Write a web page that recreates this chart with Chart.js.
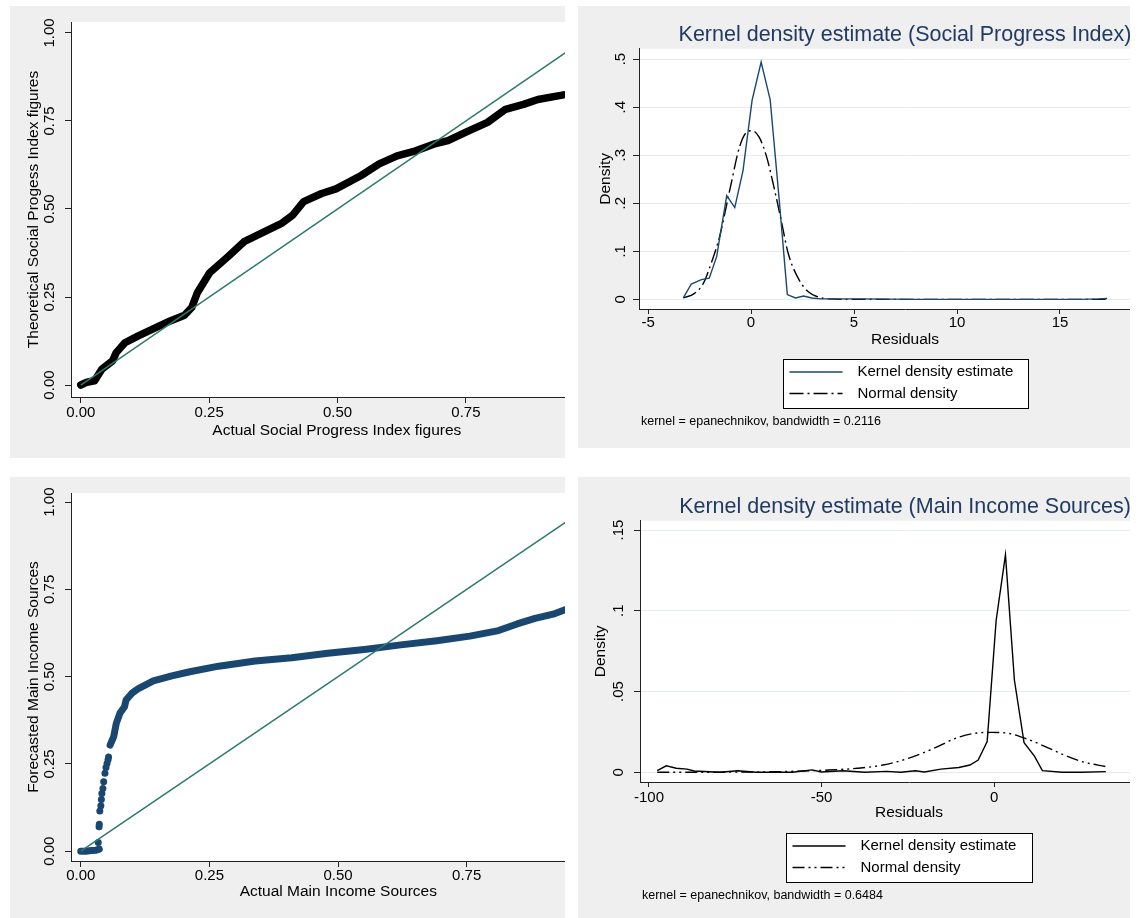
<!DOCTYPE html>
<html>
<head>
<meta charset="utf-8">
<title>Q-Q plots and kernel density estimates</title>
<script src="https://cdn.jsdelivr.net/npm/chart.js@4.4.1/dist/chart.umd.min.js"></script>
<style>
  html, body { margin: 0; padding: 0; background: #fff; }
  body { width: 1141px; height: 918px; position: relative; overflow: hidden; }
  .panel { position: absolute; background: #efefef; overflow: hidden; }
  .panel canvas { position: absolute; left: 0; top: 0; }
</style>
</head>
<body>
<div class="panel" style="left:10px;top:6px;width:555px;height:452px"><canvas id="qqSpi" width="600" height="452"></canvas></div>
<div class="panel" style="left:578px;top:6px;width:552px;height:442px"><canvas id="kdeSpi" width="654" height="442"></canvas></div>
<div class="panel" style="left:10px;top:477px;width:555px;height:441px"><canvas id="qqIncome" width="600" height="441"></canvas></div>
<div class="panel" style="left:578px;top:477px;width:552px;height:441px"><canvas id="kdeIncome" width="654" height="441"></canvas></div>
<script>
// --- data ---
const qqTicks = [0, 0.25, 0.5, 0.75, 1];
const qqTickLabels = ['0.00', '0.25', '0.50', '0.75', '1.00'];
const refLineX = [0, 1];
const refLineY = [0, 1];

// top left: social progress index, actual vs theoretical
const spiActual = [0, 0.012, 0.027, 0.041, 0.062, 0.069, 0.086, 0.111, 0.146, 0.174, 0.202, 0.216, 0.227, 0.251, 0.287, 0.318, 0.350, 0.392, 0.413, 0.434, 0.469, 0.497, 0.546, 0.581, 0.616, 0.652, 0.687, 0.715, 0.750, 0.792, 0.827, 0.862, 0.890, 0.940];
const spiTheoretical = [0, 0.008, 0.012, 0.045, 0.069, 0.092, 0.120, 0.139, 0.163, 0.182, 0.198, 0.220, 0.262, 0.319, 0.365, 0.407, 0.430, 0.460, 0.483, 0.521, 0.544, 0.557, 0.595, 0.628, 0.651, 0.665, 0.684, 0.694, 0.718, 0.746, 0.783, 0.797, 0.811, 0.824];

// bottom left: main income sources, actual vs forecasted
const incomeBaseX = [0, 0.010, 0.020, 0.030, 0.036];
const incomeBaseY = [0, 0, 0.002, 0.003, 0.006];
const incomeDotsX = [0.034, 0.0355, 0.036, 0.037, 0.039, 0.040, 0.041, 0.043, 0.0445, 0.047, 0.049, 0.051, 0.053, 0.054];
const incomeDotsY = [0.025, 0.070, 0.077, 0.115, 0.130, 0.148, 0.165, 0.180, 0.199, 0.223, 0.240, 0.251, 0.262, 0.270];
const incomeCurveX = [0.057, 0.064, 0.069, 0.076, 0.085, 0.088, 0.099, 0.112, 0.141, 0.177, 0.212, 0.268, 0.339, 0.410, 0.480, 0.551, 0.622, 0.692, 0.756, 0.812, 0.848, 0.883, 0.918, 0.945];
const incomeCurveY = [0.304, 0.328, 0.366, 0.395, 0.414, 0.433, 0.452, 0.466, 0.488, 0.502, 0.514, 0.530, 0.545, 0.554, 0.567, 0.578, 0.591, 0.603, 0.616, 0.632, 0.651, 0.667, 0.679, 0.694];

// top right: kernel density of social progress index residuals
const kdeSpiXTicks = [-5, 0, 5, 10, 15, 20];
const kdeSpiXLabels = ['-5', '0', '5', '10', '15', '20'];
const kdeSpiYTicks = [0, 0.1, 0.2, 0.3, 0.4, 0.5];
const kdeSpiYLabels = ['0', '.1', '.2', '.3', '.4', '.5'];
const kdeSpiX = [-3.29, -2.90, -2.41, -2.03, -1.67, -1.18, -0.79, -0.39, 0.05, 0.49, 0.93, 1.37, 1.76, 2.16, 2.55, 2.95, 3.39, 3.81, 4.65, 5.49, 6.75, 8.00, 10.00, 12.00, 14.00, 16.00, 16.87, 17.29];
const kdeSpiY = [0.003, 0.032, 0.041, 0.044, 0.089, 0.216, 0.191, 0.268, 0.414, 0.494, 0.415, 0.206, 0.010, 0.003, 0.007, 0.003, 0.001, 0.001, 0.001, 0.001, 0.0005, 0, 0, 0, 0, 0, 0.001, 0.002];
const normSpiX = [-3.29, -2.76, -2.32, -1.88, -1.53, -1.00, -0.56, -0.21, 0.05, 0.40, 0.76, 1.11, 1.46, 1.81, 2.34, 2.78, 3.22, 3.75, 4.50, 6.00, 10.00, 14.00, 17.29];
const normSpiY = [0.003, 0.012, 0.033, 0.082, 0.130, 0.234, 0.317, 0.348, 0.351, 0.337, 0.296, 0.234, 0.165, 0.095, 0.040, 0.016, 0.0055, 0.001, 0, 0, 0, 0, 0];

// bottom right: kernel density of main income sources residuals
const kdeIncXTicks = [-100, -50, 0, 50];
const kdeIncXLabels = ['-100', '-50', '0', '50'];
const kdeIncYTicks = [0, 0.05, 0.1, 0.15];
const kdeIncYLabels = ['0', '.05', '.1', '.15'];
const kdeIncX = [-97.6, -95.0, -92.1, -89.0, -86.9, -79.5, -74.3, -69.0, -58.5, -52.7, -50.1, -43.8, -37.5, -31.2, -27.0, -22.8, -20.2, -15.4, -10.2, -7.0, -4.6, -2.0, 0.6, 3.3, 5.9, 8.7, 11.7, 14.0, 19.7, 25.5, 32.4];
const kdeIncY = [0.001, 0.004, 0.0025, 0.002, 0.0008, 0, 0.001, 0, 0, 0.0015, 0.0002, 0.001, 0, 0.0006, 0, 0.001, 0.0002, 0.002, 0.003, 0.0045, 0.0076, 0.019, 0.094, 0.1346, 0.057, 0.0183, 0.010, 0.001, 0, 0, 0.0004];
const normIncX = [-97.6, -69.0, -48.0, -39.6, -32.2, -24.9, -17.5, -11.2, -6.0, -0.7, 4.5, 9.8, 15.0, 20.3, 25.5, 32.4];
const normIncY = [0, 0.0002, 0.0014, 0.0025, 0.0045, 0.0086, 0.0148, 0.021, 0.024, 0.0247, 0.024, 0.0204, 0.0158, 0.0107, 0.0066, 0.0035];

// --- styling ---
const FONT = '"Liberation Sans", Arial, Helvetica, sans-serif';
const navy = '#1a476f';
const teal = '#2d7a6b';
const axisColor = '#222';
const gridColor = '#e3ecef';
const titleColor = '#213a63';

Chart.defaults.font.family = FONT;
Chart.defaults.font.size = 15;
Chart.defaults.color = '#000';

const toPoints = (xs, ys) => xs.map((x, i) => ({ x, y: ys[i] }));

const plotBg = {
  id: 'plotBg',
  beforeDraw(chart) {
    const { ctx, chartArea: a } = chart;
    ctx.save();
    ctx.fillStyle = '#fff';
    ctx.fillRect(a.left, a.top, a.right - a.left, a.bottom - a.top);
    ctx.restore();
  }
};

// Stata-style boxed legend under the plot plus the kernel note
const boxLegend = {
  id: 'boxLegend',
  afterDraw(chart, args, opts) {
    if (!opts.note) return;
    const { ctx, chartArea: a } = chart;
    const cx = (a.left + a.right) / 2;
    const left = Math.round(cx - opts.width / 2) + 0.5;
    const top = Math.round(a.bottom + opts.gap) + 0.5;
    ctx.save();
    ctx.fillStyle = '#fff';
    ctx.fillRect(left, top, opts.width, opts.height);
    ctx.strokeStyle = '#000';
    ctx.lineWidth = 1;
    ctx.strokeRect(left, top, opts.width, opts.height);
    ctx.font = '15px ' + FONT;
    ctx.textBaseline = 'middle';
    chart.data.datasets.forEach((ds, i) => {
      const y = top + opts.rows[i];
      ctx.strokeStyle = ds.borderColor;
      ctx.lineWidth = ds.borderWidth;
      ctx.setLineDash(ds.borderDash || []);
      ctx.beginPath();
      ctx.moveTo(left + 6, y);
      ctx.lineTo(left + 59, y);
      ctx.stroke();
      ctx.setLineDash([]);
      ctx.fillStyle = '#000';
      ctx.fillText(ds.label, left + 74, y);
    });
    ctx.font = '12.5px ' + FONT;
    ctx.fillText(opts.note, a.left + 2, a.bottom + opts.noteGap);
    ctx.restore();
  }
};

function xAxis(o) {
  return {
    type: 'linear',
    min: o.min,
    max: o.max,
    afterBuildTicks: s => { s.ticks = o.ticks.map(v => ({ value: v })); },
    afterFit: s => { s.height = o.height; },
    ticks: { callback: (v, i) => o.labels[i], padding: o.pad, autoSkip: false, maxRotation: 0 },
    grid: { drawOnChartArea: false, tickLength: o.tick, tickColor: axisColor },
    border: { color: axisColor },
    title: { display: true, text: o.title, font: { size: 15.5 }, padding: 0 }
  };
}

function yAxis(o) {
  return {
    type: 'linear',
    min: o.min,
    max: o.max,
    afterBuildTicks: s => { s.ticks = o.ticks.map(v => ({ value: v })); },
    afterFit: s => { s.width = o.width; },
    ticks: { callback: (v, i) => o.labels[i], padding: o.pad, autoSkip: false, minRotation: 90, maxRotation: 90, crossAlign: 'center' },
    grid: { drawOnChartArea: !!o.grid, color: gridColor, tickLength: 6, tickColor: axisColor },
    border: { color: axisColor },
    title: { display: true, text: o.title, font: { size: 15.5 }, padding: { top: o.titlePad, bottom: 0 } }
  };
}

// empty right-hand box: keeps the plot narrower while the title stays centred on the full graph
function spacer(width) {
  return {
    position: 'right',
    display: true,
    afterFit: s => { s.width = width; },
    ticks: { display: false },
    grid: { display: false },
    border: { display: false }
  };
}

const base = {
  responsive: false,
  animation: false,
  devicePixelRatio: 1,
  events: []
};

// top left
new Chart(document.getElementById('qqSpi'), {
  type: 'scatter',
  data: {
    datasets: [
      { label: 'Reference', data: toPoints(refLineX, refLineY), showLine: true, borderColor: teal, borderWidth: 1.5, pointRadius: 0 },
      { label: 'Social Progress Index', data: toPoints(spiActual, spiTheoretical), showLine: true, borderColor: '#000', borderWidth: 7.5, borderCapStyle: 'round', borderJoinStyle: 'round', pointRadius: 0 }
    ]
  },
  options: {
    ...base,
    layout: { padding: { top: 16, left: 0, right: 3, bottom: 18 } },
    plugins: { legend: { display: false }, tooltip: { enabled: false } },
    scales: {
      x: xAxis({ min: -0.019, max: 1.016, ticks: qqTicks, labels: qqTickLabels, height: 43, pad: 1, tick: 6, title: 'Actual Social Progress Index figures' }),
      y: yAxis({ min: -0.034, max: 1.031, ticks: qqTicks, labels: qqTickLabels, width: 61, pad: 1, titlePad: 14, title: 'Theoretical Social Progess Index figures' })
    }
  },
  plugins: [plotBg]
});

// bottom left
new Chart(document.getElementById('qqIncome'), {
  type: 'scatter',
  data: {
    datasets: [
      { label: 'Reference', data: toPoints(refLineX, refLineY), showLine: true, borderColor: teal, borderWidth: 1.5, pointRadius: 0 },
      { label: 'Base', data: toPoints(incomeBaseX, incomeBaseY), showLine: true, borderColor: navy, borderWidth: 7, borderCapStyle: 'round', borderJoinStyle: 'round', pointRadius: 0 },
      { label: 'Dots', data: toPoints(incomeDotsX, incomeDotsY), showLine: false, backgroundColor: navy, borderWidth: 0, pointRadius: 3.5 },
      { label: 'Curve', data: toPoints(incomeCurveX, incomeCurveY), showLine: true, borderColor: navy, borderWidth: 7, borderCapStyle: 'round', borderJoinStyle: 'round', pointRadius: 0 }
    ]
  },
  options: {
    ...base,
    layout: { padding: { top: 16, left: 0, right: 3, bottom: 17 } },
    plugins: { legend: { display: false }, tooltip: { enabled: false } },
    scales: {
      x: xAxis({ min: -0.019, max: 1.02, ticks: qqTicks, labels: qqTickLabels, height: 40, pad: 0, tick: 6, title: 'Actual Main Income Sources' }),
      y: yAxis({ min: -0.028, max: 1.026, ticks: qqTicks, labels: qqTickLabels, width: 61, pad: 1, titlePad: 14, title: 'Forecasted Main Income Sources' })
    }
  },
  plugins: [plotBg]
});

// top right
new Chart(document.getElementById('kdeSpi'), {
  type: 'scatter',
  data: {
    datasets: [
      { label: 'Kernel density estimate', data: toPoints(kdeSpiX, kdeSpiY), showLine: true, borderColor: navy, borderWidth: 1.4, pointRadius: 0 },
      { label: 'Normal density', data: toPoints(normSpiX, normSpiY), showLine: true, borderColor: '#000', borderWidth: 1.4, borderDash: [14, 4, 2, 4], cubicInterpolationMode: 'monotone', pointRadius: 0 }
    ]
  },
  options: {
    ...base,
    layout: { padding: { top: 0, left: 0, right: 0, bottom: 99 } },
    plugins: {
      legend: { display: false },
      tooltip: { enabled: false },
      title: { display: true, text: 'Kernel density estimate (Social Progress Index)', color: titleColor, font: { size: 21.5, weight: 'normal' }, padding: { top: 16, bottom: 1 } },
      boxLegend: { width: 245, height: 49, gap: 50, rows: [12.5, 34], noteGap: 113, note: 'kernel = epanechnikov, bandwidth = 0.2116' }
    },
    scales: {
      x: xAxis({ min: -5.44, max: 20.39, ticks: kdeSpiXTicks, labels: kdeSpiXLabels, height: 40, pad: 0, tick: 5, title: 'Residuals' }),
      y: yAxis({ min: -0.02, max: 0.5214, ticks: kdeSpiYTicks, labels: kdeSpiYLabels, width: 61, pad: 6, titlePad: 18.7, grid: true, title: 'Density' }),
      pad: spacer(61)
    }
  },
  plugins: [plotBg, boxLegend]
});

// bottom right
new Chart(document.getElementById('kdeIncome'), {
  type: 'scatter',
  data: {
    datasets: [
      { label: 'Kernel density estimate', data: toPoints(kdeIncX, kdeIncY), showLine: true, borderColor: '#000', borderWidth: 1.4, pointRadius: 0 },
      { label: 'Normal density', data: toPoints(normIncX, normIncY), showLine: true, borderColor: '#000', borderWidth: 1.4, borderDash: [12, 4, 2, 4, 2, 4], cubicInterpolationMode: 'monotone', pointRadius: 0 }
    ]
  },
  options: {
    ...base,
    layout: { padding: { top: 0, left: 0, right: 0, bottom: 96 } },
    plugins: {
      legend: { display: false },
      tooltip: { enabled: false },
      title: { display: true, text: 'Kernel density estimate (Main Income Sources)', color: titleColor, font: { size: 21.5, weight: 'normal' }, padding: { top: 17, bottom: 1 } },
      boxLegend: { width: 246, height: 49, gap: 51, rows: [12.5, 34], noteGap: 114, note: 'kernel = epanechnikov, bandwidth = 0.6484' }
    },
    scales: {
      x: xAxis({ min: -102.6, max: 53.3, ticks: kdeIncXTicks, labels: kdeIncXLabels, height: 40, pad: 2, tick: 5, title: 'Residuals' }),
      y: yAxis({ min: -0.006, max: 0.1557, ticks: kdeIncYTicks, labels: kdeIncYLabels, width: 62, pad: 5, titlePad: 13.2, grid: true, title: 'Density' }),
      pad: spacer(54)
    }
  },
  plugins: [plotBg, boxLegend]
});
</script>
</body>
</html>
